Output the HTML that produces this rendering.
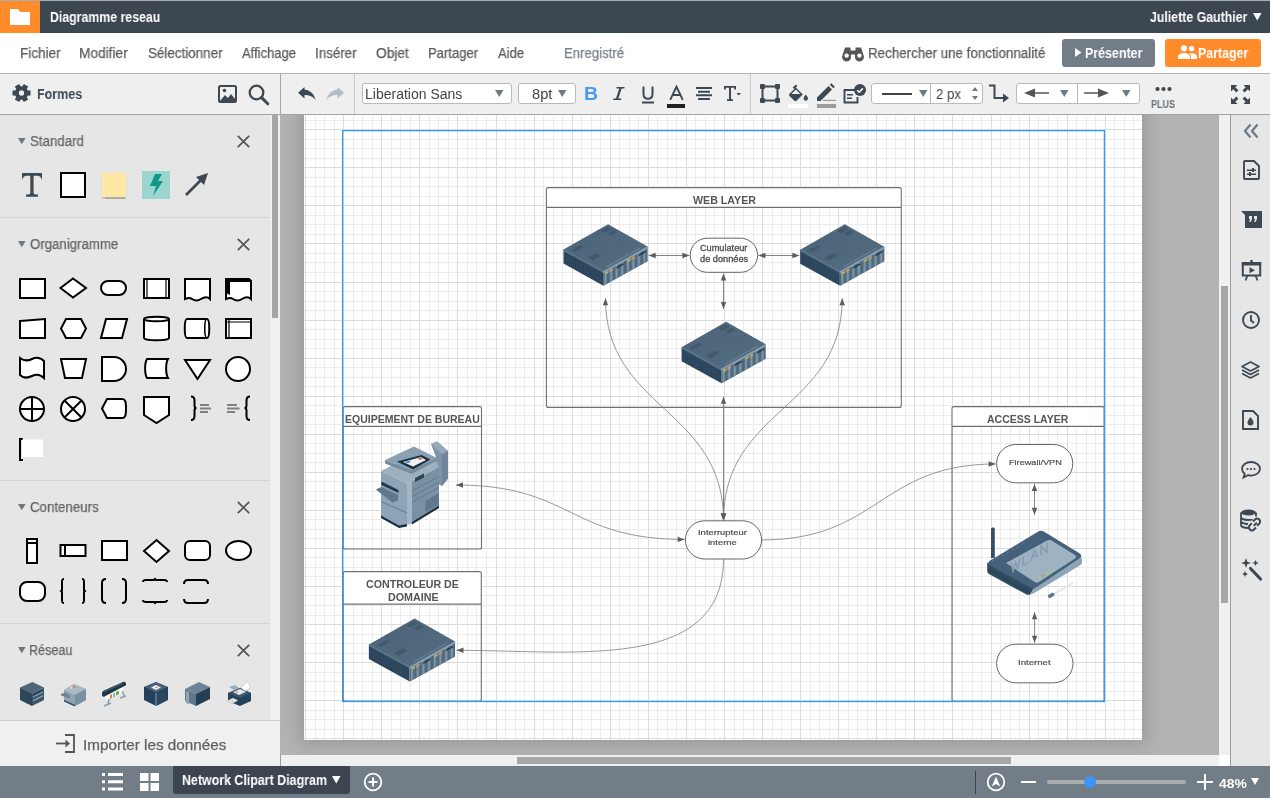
<!DOCTYPE html>
<html><head><meta charset="utf-8"><style>
html,body{margin:0;padding:0;width:1270px;height:798px;overflow:hidden;background:#fff;}
body{position:relative;font-family:"Liberation Sans",sans-serif;}
.r{position:absolute;}
.t{position:absolute;white-space:nowrap;transform-origin:0 0;will-change:transform;}
svg{position:absolute;overflow:visible;}
</style></head><body>
<div class="r" style="left:0px;top:0px;width:1270px;height:1px;background:#a9acb0"></div>
<div class="r" style="left:0px;top:1px;width:1270px;height:32px;background:#3d4752"></div>
<div class="r" style="left:0px;top:1px;width:40px;height:32px;background:#ff8b2b"></div>
<div class="r" style="left:0px;top:33px;width:1270px;height:40px;background:#fff"></div>
<div class="r" style="left:0px;top:73px;width:1270px;height:1px;background:#b4b4b4"></div>
<div class="r" style="left:0px;top:74px;width:1270px;height:40px;background:#efefef"></div>
<div class="r" style="left:0px;top:114px;width:1270px;height:1px;background:#a3a3a3"></div>
<div class="r" style="left:280px;top:74px;width:1px;height:41px;background:#a8a8a8"></div>
<div class="r" style="left:0px;top:115px;width:280px;height:651px;background:#e6e6e6"></div>
<div class="r" style="left:270px;top:115px;width:10px;height:605px;background:#f0f0f0"></div>
<div class="r" style="left:272px;top:115px;width:6px;height:203px;background:#a5a7a7"></div>
<div class="r" style="left:280px;top:115px;width:1px;height:640px;background:#b2b3b5"></div>
<div class="r" style="left:280px;top:755px;width:1px;height:11px;background:#9a9a9a"></div>
<div class="r" style="left:281px;top:115px;width:938px;height:640px;background:#b1b2b4"></div>
<div class="r" style="left:281px;top:115px;width:938px;height:640px;overflow:hidden"><div class="r" style="left:23px;top:-20px;width:838px;height:645px;background:#fff;box-shadow:0 0 16px 3px rgba(0,0,0,0.16)"></div></div>
<svg style="left:304px;top:115px" width="838" height="625" shape-rendering="crispEdges"><path fill="#ececec" d="M11 0h1v625h-1zM20 0h1v625h-1zM30 0h1v625h-1zM49 0h1v625h-1zM58 0h1v625h-1zM68 0h1v625h-1zM87 0h1v625h-1zM96 0h1v625h-1zM106 0h1v625h-1zM125 0h1v625h-1zM134 0h1v625h-1zM144 0h1v625h-1zM163 0h1v625h-1zM172 0h1v625h-1zM182 0h1v625h-1zM201 0h1v625h-1zM211 0h1v625h-1zM220 0h1v625h-1zM239 0h1v625h-1zM249 0h1v625h-1zM258 0h1v625h-1zM277 0h1v625h-1zM287 0h1v625h-1zM296 0h1v625h-1zM315 0h1v625h-1zM325 0h1v625h-1zM334 0h1v625h-1zM353 0h1v625h-1zM363 0h1v625h-1zM372 0h1v625h-1zM391 0h1v625h-1zM401 0h1v625h-1zM410 0h1v625h-1zM430 0h1v625h-1zM439 0h1v625h-1zM449 0h1v625h-1zM468 0h1v625h-1zM477 0h1v625h-1zM487 0h1v625h-1zM506 0h1v625h-1zM515 0h1v625h-1zM525 0h1v625h-1zM544 0h1v625h-1zM553 0h1v625h-1zM563 0h1v625h-1zM582 0h1v625h-1zM591 0h1v625h-1zM601 0h1v625h-1zM620 0h1v625h-1zM629 0h1v625h-1zM639 0h1v625h-1zM658 0h1v625h-1zM668 0h1v625h-1zM677 0h1v625h-1zM696 0h1v625h-1zM706 0h1v625h-1zM715 0h1v625h-1zM734 0h1v625h-1zM744 0h1v625h-1zM753 0h1v625h-1zM772 0h1v625h-1zM782 0h1v625h-1zM791 0h1v625h-1zM810 0h1v625h-1zM820 0h1v625h-1zM829 0h1v625h-1zM0 5h838v1h-838zM0 24h838v1h-838zM0 33h838v1h-838zM0 43h838v1h-838zM0 62h838v1h-838zM0 71h838v1h-838zM0 81h838v1h-838zM0 100h838v1h-838zM0 109h838v1h-838zM0 119h838v1h-838zM0 138h838v1h-838zM0 147h838v1h-838zM0 157h838v1h-838zM0 176h838v1h-838zM0 186h838v1h-838zM0 195h838v1h-838zM0 214h838v1h-838zM0 224h838v1h-838zM0 233h838v1h-838zM0 252h838v1h-838zM0 262h838v1h-838zM0 271h838v1h-838zM0 290h838v1h-838zM0 300h838v1h-838zM0 309h838v1h-838zM0 328h838v1h-838zM0 338h838v1h-838zM0 347h838v1h-838zM0 366h838v1h-838zM0 376h838v1h-838zM0 385h838v1h-838zM0 404h838v1h-838zM0 414h838v1h-838zM0 423h838v1h-838zM0 442h838v1h-838zM0 452h838v1h-838zM0 461h838v1h-838zM0 480h838v1h-838zM0 490h838v1h-838zM0 500h838v1h-838zM0 519h838v1h-838zM0 528h838v1h-838zM0 538h838v1h-838zM0 557h838v1h-838zM0 566h838v1h-838zM0 576h838v1h-838zM0 595h838v1h-838zM0 604h838v1h-838zM0 614h838v1h-838z"/><path fill="#dcdcdc" d="M1 0h1v625h-1zM39 0h1v625h-1zM77 0h1v625h-1zM115 0h1v625h-1zM153 0h1v625h-1zM192 0h1v625h-1zM230 0h1v625h-1zM268 0h1v625h-1zM306 0h1v625h-1zM344 0h1v625h-1zM382 0h1v625h-1zM420 0h1v625h-1zM458 0h1v625h-1zM496 0h1v625h-1zM534 0h1v625h-1zM572 0h1v625h-1zM610 0h1v625h-1zM648 0h1v625h-1zM687 0h1v625h-1zM725 0h1v625h-1zM763 0h1v625h-1zM801 0h1v625h-1zM0 14h838v1h-838zM0 52h838v1h-838zM0 90h838v1h-838zM0 128h838v1h-838zM0 167h838v1h-838zM0 205h838v1h-838zM0 243h838v1h-838zM0 281h838v1h-838zM0 319h838v1h-838zM0 357h838v1h-838zM0 395h838v1h-838zM0 433h838v1h-838zM0 471h838v1h-838zM0 509h838v1h-838zM0 547h838v1h-838zM0 585h838v1h-838zM0 623h838v1h-838z"/></svg>
<svg style="left:0;top:0" width="1270" height="798" viewBox="0 0 1270 798">
<defs>
<linearGradient id="stop" x1="0" y1="0" x2="1" y2="1"><stop offset="0" stop-color="#4a6378"/><stop offset="1" stop-color="#546d81"/></linearGradient>
<linearGradient id="sbay" x1="0" y1="0" x2="1" y2="0" spreadMethod="repeat"><stop offset="0" stop-color="#4a6275"/><stop offset="0.5" stop-color="#7f96a8"/><stop offset="1" stop-color="#4a6275"/></linearGradient>
<pattern id="grille" width="2" height="2" patternUnits="userSpaceOnUse"><rect width="2" height="2" fill="#27425a"/><rect width="1" height="1" fill="#3a566b"/></pattern>
<pattern id="stripes" width="0.125" height="1" patternUnits="userSpaceOnUse"><rect width="0.125" height="1" fill="#506a7e"/><rect x="0.03" width="0.05" height="1" fill="#7d95a7"/></pattern>
<g id="server">
  <path fill="url(#stop)" d="M0 0L39.5 22.4L-5 47.2L-44.6 25.4z"/>
  <g transform="matrix(44.6,-25.4,39.6,21.8,-44.6,25.4)">
    <path fill="#30495c" d="M0.78 0.05h0.16v0.1h-0.16zM0.80 0.2h0.14v0.1h-0.14zM0.08 0.12h0.2v0.08h-0.2zM0.1 0.5h0.2v0.12h-0.2z" opacity="0.45"/>
    <path fill="#6d869a" d="M0.12 0.93h0.75v0.03h-0.75z" opacity="0.8"/>
  </g>
  <path fill="none" stroke="#6e879a" stroke-width="0.9" d="M-44.2 25.6L-5 47.2L39.2 22.6"/>
  <g transform="matrix(39.6,21.8,0,14,-44.6,25.4)">
    <rect x="0" y="0" width="1" height="1" fill="#2b4457"/>
    <rect x="0.04" y="0.12" width="0.93" height="0.82" fill="url(#grille)" transform="scale(0.025,0.07)" style="display:none"/>
  </g>
  <path fill="url(#grille)" d="M-43.4 27.5L-6 48.2L-6 60.4L-43.4 39.4z"/>
  <path fill="#5e778a" d="M-44.6 25.4L-5 47.2V48.6L-44.6 26.8z"/>
  <g transform="matrix(44.5,-24.8,0,14.6,-5,47.2)">
    <rect x="0" y="0" width="1" height="1" fill="#4c6478"/>
    <rect x="0.02" y="0.12" width="0.46" height="0.86" fill="url(#stripes)"/>
    <rect x="0.52" y="0.12" width="0.46" height="0.86" fill="url(#stripes)"/>
    <rect x="0" y="0" width="1" height="0.12" fill="#8fa5b5"/>
    <rect x="0.3" y="0.2" width="0.16" height="0.12" fill="#25394a"/>
    <rect x="0.8" y="0.2" width="0.16" height="0.12" fill="#25394a"/>
    <rect x="0.04" y="0.16" width="0.08" height="0.14" fill="#b9b45e"/>
    <rect x="0.14" y="0.16" width="0.08" height="0.14" fill="#c99a5c"/>
    <rect x="0.54" y="0.16" width="0.08" height="0.14" fill="#b9b45e"/>
    <rect x="0.64" y="0.16" width="0.08" height="0.14" fill="#c99a5c"/>
  </g>
</g>
<clipPath id="cv"><rect x="281" y="115" width="938" height="640"/></clipPath></defs>
<g clip-path="url(#cv)">
<path fill="#fff" d="M546.4 207.4V189.6a2 2 0 0 1 2-2H899.3a2 2 0 0 1 2 2V207.4z"/><path fill="none" stroke="#707070" stroke-width="1.1" d="M546.4 405.4V189.6a2 2 0 0 1 2-2H899.3a2 2 0 0 1 2 2V405.4a2 2 0 0 1-2 2H548.4a2 2 0 0 1-2-2zM546.4 207.4H901.3"/>
<path fill="#fff" d="M952.0 426.4V408.6a2 2 0 0 1 2-2H1102.2a2 2 0 0 1 2 2V426.4z"/><path fill="none" stroke="#707070" stroke-width="1.1" d="M952.0 699.4V408.6a2 2 0 0 1 2-2H1102.2a2 2 0 0 1 2 2V699.4a2 2 0 0 1-2 2H954.0a2 2 0 0 1-2-2zM952.0 426.4H1104.2"/>
<path fill="#fff" d="M343.2 426.4V408.6a2 2 0 0 1 2-2H479.5a2 2 0 0 1 2 2V426.4z"/><path fill="none" stroke="#707070" stroke-width="1.1" d="M343.2 547.0V408.6a2 2 0 0 1 2-2H479.5a2 2 0 0 1 2 2V547.0a2 2 0 0 1-2 2H345.2a2 2 0 0 1-2-2zM343.2 426.4H481.5"/>
<path fill="#fff" d="M343.2 604.1V573.6a2 2 0 0 1 2-2H479.3a2 2 0 0 1 2 2V604.1z"/><path fill="none" stroke="#707070" stroke-width="1.1" d="M343.2 699.3V573.6a2 2 0 0 1 2-2H479.3a2 2 0 0 1 2 2V699.3a2 2 0 0 1-2 2H345.2a2 2 0 0 1-2-2zM343.2 604.1H481.3"/>
<path stroke="#858585" stroke-width="1" fill="none" d="M648.7 255.5L689.4 255.5"/><path fill="#5c5c5c" d="M689.40 255.50L682.40 258.20L682.40 252.80z"/><path fill="#5c5c5c" d="M648.70 255.50L655.70 252.80L655.70 258.20z"/>
<path stroke="#858585" stroke-width="1" fill="none" d="M758.4 255.5L799.3 255.5"/><path fill="#5c5c5c" d="M799.30 255.50L792.30 258.20L792.30 252.80z"/><path fill="#5c5c5c" d="M758.40 255.50L765.40 252.80L765.40 258.20z"/>
<path stroke="#858585" stroke-width="1" fill="none" d="M723.5 273.5L723.5 309.0"/><path fill="#5c5c5c" d="M723.50 309.00L720.80 302.00L726.20 302.00z"/><path fill="#5c5c5c" d="M723.50 273.50L726.20 280.50L720.80 280.50z"/>
<path stroke="#858585" stroke-width="1" fill="none" d="M723.5 396.7L723.5 520.5"/><path fill="#5c5c5c" d="M723.50 520.50L720.80 513.50L726.20 513.50z"/><path fill="#5c5c5c" d="M723.50 396.70L726.20 403.70L720.80 403.70z"/>
<path stroke="#858585" stroke-width="1" fill="none" d="M1034.5 483.9L1034.5 514.8"/><path fill="#5c5c5c" d="M1034.50 514.80L1031.80 507.80L1037.20 507.80z"/><path fill="#5c5c5c" d="M1034.50 483.90L1037.20 490.90L1031.80 490.90z"/>
<path stroke="#858585" stroke-width="1" fill="none" d="M1034.6 612.3L1034.6 642.8"/><path fill="#5c5c5c" d="M1034.60 642.80L1031.90 635.80L1037.30 635.80z"/><path fill="#5c5c5c" d="M1034.60 612.30L1037.30 619.30L1031.90 619.30z"/>
<path stroke="#7e7e7e" stroke-width="0.8" fill="none" d="M605.5 298.3C605.5 409.9 723.5 407.7 723.5 520.5"/><path fill="#5c5c5c" d="M605.50 298.30L608.20 305.30L602.80 305.30z"/><path fill="#5c5c5c" d="M723.50 520.50L720.80 513.50L726.20 513.50z"/>
<path stroke="#7e7e7e" stroke-width="0.8" fill="none" d="M842.2 298.3C842.2 409.9 723.5 407.7 723.5 520.5"/><path fill="#5c5c5c" d="M842.20 298.30L844.90 305.30L839.50 305.30z"/><path fill="#5c5c5c" d="M723.50 520.50L720.80 513.50L726.20 513.50z"/>
<path stroke="#7e7e7e" stroke-width="0.8" fill="none" d="M456.0 485.0C572.3 485.0 568.6 539.4 684.6 539.4"/><path fill="#5c5c5c" d="M456.00 485.00L463.00 482.30L463.00 487.70z"/><path fill="#5c5c5c" d="M684.60 539.40L677.60 542.10L677.60 536.70z"/>
<path stroke="#7e7e7e" stroke-width="0.8" fill="none" d="M762.0 539.9C878.8 539.9 879.7 464.0 995.6 464.0"/><path fill="#5c5c5c" d="M995.60 464.00L988.60 466.70L988.60 461.30z"/>
<path stroke="#7e7e7e" stroke-width="0.8" fill="none" d="M723.5 559.2C723.5 672.7 572.8 650.3 456.5 650.3"/><path fill="#5c5c5c" d="M456.50 650.30L463.50 647.60L463.50 653.00z"/>
<rect x="690.2" y="238.2" width="67.4" height="34.1" rx="17.1" fill="#fff" stroke="#666" stroke-width="1"/>
<rect x="685.4" y="520.8" width="76.2" height="38.2" rx="19.1" fill="#fff" stroke="#666" stroke-width="1"/>
<rect x="996.6" y="444.5" width="76.2" height="38.3" rx="19.2" fill="#fff" stroke="#666" stroke-width="1"/>
<rect x="996.6" y="644.2" width="76.4" height="38.6" rx="19.3" fill="#fff" stroke="#666" stroke-width="1"/>
<use href="#server" transform="translate(608.10 224.20) scale(1.000)"/>
<use href="#server" transform="translate(844.80 224.30) scale(1.000)"/>
<use href="#server" transform="translate(726.20 321.80) scale(1.000)"/>
<use href="#server" transform="translate(414.60 618.50) scale(1.025)"/>

<g>
 <path fill="#34516a" d="M991 529c0-1 1-1.5 2-1.5s1.8.5 1.8 1.5v29h-3.8z"/>
 <path fill="#2f4b60" d="M987.2 562.6L1034 588L1030 594.5C1029 595 1027 595 1026 594.3L989 574c-1.3-.7-1.8-2-1.8-3.5z"/>
 <path fill="#8ea5b6" d="M1034 588L1082 557.3V562c0 1.5-.6 2.5-1.8 3.2L1033 593.8c-1 .6-2 .8-3 .7z"/>
 <path fill="#44607a" d="M1037 532.2c3-1.8 5-1.8 8 0L1079 553c3 2 3 4 0 6l-42 27.8c-3 2-5 2-8 .2L991 566c-3.5-2-3.5-4 0-6z"/>
 <path fill="#9db2c2" d="M1006 563L1047 540.5c1.5-.8 3-.8 4.5 0L1075 555c1.5 1 1.5 2.5 0 3.5L1039 582c-1.5 1-3 1-4.5 0z"/>
 <g transform="matrix(1,-0.56,0,1,1011,572)" fill="none" stroke="#879db0" stroke-width="1.6"><path d="M0 -9l2.2 9 2.3-6.5 2.3 6.5 2.2-9M12 -9v9h6M20 0l3.3-9 3.3 9M21.2 -3h4.3M30 0v-9l6 9v-9"/></g>
 <g transform="matrix(1,-0.56,0,1,992,563)" fill="#5a778e"><path d="M0 -3h1.5v2H0zM5 -3h1.5v2H5zM10 -3h1.5v2H10zM15 -3h1.5v2H15zM20 -3h1.5v2H20zM25 -3h1.5v2H25zM30 -3h1.5v2H30z"/></g>
 <path fill="#c9c84a" d="M1039 577l1.3-.8v2.2l-1.3.8zM1042.5 575l1.3-.8v2.2l-1.3.8zM1046 573l1.3-.8v2.2l-1.3.8zM1049.5 571l1.3-.8v2.2l-1.3.8zM1053 569l1.3-.8v2.2l-1.3.8z"/>
 <path fill="#d77a3a" d="M1042.5 575l1.3-.8v2.2l-1.3.8z"/>
 <path fill="#2a4457" d="M989 570.5L1030 594.5v-2.5L989 568z" opacity="0.8"/>
 <path stroke="#dfe6ea" stroke-width="1.6" d="M1053 594.5L1073 583"/>
 <path fill="#5c7a92" d="M1048 595l4.5-2.4 1.8 1v2.2l-4.5 2.4-1.8-1z"/>
</g>


<g>
 <path fill="#7d93a6" d="M431 444l6-2.5 11 9.5v27.5l-6 7.5-6-3V457z"/>
 <path fill="#93a8b9" d="M431 444l6-2.5 11 9.5-6 3.5z"/>
 <path fill="#6f869a" d="M442 454.5l6-3.5v27.5l-6 7.5z"/>
 <path fill="#8da3b6" d="M381 471L407 483.5V524L399 527.5L381 517.5z"/>
 <path fill="#a3b6c5" d="M407 483.5l5 -2.5V524l-5 .5z"/>
 <path fill="#7a91a4" d="M412 481L439 467V507L412 523.5z"/>
 <path fill="#1a3040" d="M381 515.5L399 525.5v2.5L381 518zM399 525.5l8-1.5v2.5l-8 1.5zM412 522l27-16.5v2.5L412 524.5z"/>
 <path fill="#9db0c0" d="M381 471L397 463L436 461L439 467L412 481L407 483.5z"/>
 <path fill="#8aa1b4" d="M385 460L414 446.5L436 457.5L412 470.5z"/>
 <path fill="#748c9f" d="M385 460L412 470.5V474L385 463.5zM412 470.5L436 457.5V461L412 474z"/>
 <path fill="#1b3142" d="M397 461.5L421.5 455L430.5 459.5L413 469.5z"/>
 <path fill="#eef1f3" d="M403 462L421 457L426 460L413 466.5z"/>
 <path fill="#3d86d6" d="M405 462l4-1.2 2 1.2-4 1.2z"/>
 <path fill="#d9703a" d="M417.5 458.5l3-.9 2.5 1.5-3 .9z"/>
 <path fill="#6aae4c" d="M418 457.3l2-.6 1.3.8-2 .6z"/>
 <path fill="#2b4558" d="M415 478l9-4.5v4l-9 4.5z"/>
 <path fill="#233a4c" d="M381.4 481.5L398.5 490v3L381.4 485z"/>
 <path fill="#5f778b" d="M375.8 489.5L381.4 487L398 495v5.5l-5.5 2z"/>
 <path fill="none" stroke="#5a7286" stroke-width="0.8" d="M412 491L439 476.5M412 496.5L439 482M412 502L439 487.5M381 501.5L407 513"/>
 <path fill="#60788c" d="M425.5 501l13.5-8v11l-13.5 8z"/>
</g>

<rect x="342.6" y="130.6" width="761.8" height="570.9" fill="none" stroke="#2a9dfc" stroke-width="1.3"/>
</g></svg>
<span class="t" style="left:693.00px;top:195.11px;font-size:10.5px;line-height:10.5px;font-weight:bold;color:#555;transform:scaleX(1.0144);">WEB LAYER</span>
<span class="t" style="left:987.25px;top:413.61px;font-size:10.5px;line-height:10.5px;font-weight:bold;color:#555;">ACCESS LAYER</span>
<span class="t" style="left:345.01px;top:413.81px;font-size:10.5px;line-height:10.5px;font-weight:bold;color:#555;">EQUIPEMENT DE BUREAU</span>
<span class="t" style="left:365.92px;top:578.71px;font-size:10.5px;line-height:10.5px;font-weight:bold;color:#555;transform:scaleX(1.0142);">CONTROLEUR DE</span>
<span class="t" style="left:387.50px;top:591.71px;font-size:10.5px;line-height:10.5px;font-weight:bold;color:#555;transform:scaleX(1.0206);">DOMAINE</span>
<span class="t" style="left:699.80px;top:243.60px;font-size:8.5px;line-height:8.5px;font-weight:normal;color:#4e4e4e;transform:scaleX(1.0782);-webkit-text-stroke:0.3px #4e4e4e;">Cumulateur</span>
<span class="t" style="left:699.86px;top:254.60px;font-size:8.5px;line-height:8.5px;font-weight:normal;color:#4e4e4e;transform:scaleX(1.0849);-webkit-text-stroke:0.3px #4e4e4e;">de données</span>
<span class="t" style="left:698.09px;top:528.93px;font-size:8px;line-height:8px;font-weight:normal;color:#4e4e4e;transform:scaleX(1.1809);-webkit-text-stroke:0.2px #4e4e4e;">Interrupteur</span>
<span class="t" style="left:708.41px;top:538.83px;font-size:8px;line-height:8px;font-weight:normal;color:#4e4e4e;transform:scaleX(1.1767);-webkit-text-stroke:0.2px #4e4e4e;">interne</span>
<span class="t" style="left:1008.69px;top:459.23px;font-size:8px;line-height:8px;font-weight:normal;color:#4e4e4e;transform:scaleX(1.1416);-webkit-text-stroke:0.2px #4e4e4e;">Firewall/VPN</span>
<span class="t" style="left:1018.07px;top:659.23px;font-size:8px;line-height:8px;font-weight:normal;color:#4e4e4e;transform:scaleX(1.2028);-webkit-text-stroke:0.2px #4e4e4e;">Internet</span>
<div class="r" style="left:1219px;top:115px;width:11px;height:640px;background:#f0f0f0"></div>
<div class="r" style="left:1221px;top:286px;width:7px;height:317px;background:#a5a7a7"></div>
<div class="r" style="left:1230px;top:115px;width:1px;height:651px;background:#9c9c9c"></div>
<div class="r" style="left:1231px;top:115px;width:39px;height:651px;background:#e6e6e6"></div>
<div class="r" style="left:281px;top:755px;width:938px;height:11px;background:#f0f0f0"></div>
<div class="r" style="left:517px;top:757px;width:494px;height:7px;background:#a5a7a7"></div>
<div class="r" style="left:1219px;top:755px;width:11px;height:11px;background:#fff"></div>
<div class="r" style="left:0px;top:766px;width:1270px;height:32px;background:#737d88"></div>
<svg style="left:10px;top:9px" width="20" height="16"><path fill="#fff" d="M0 0h8l2 3h10v13H0z"/></svg>
<span class="t" style="left:49.93px;top:10.15px;font-size:14px;line-height:14px;font-weight:bold;color:#fff;transform:scaleX(0.8797);">Diagramme reseau</span>
<span class="t" style="left:1150.23px;top:10.15px;font-size:14px;line-height:14px;font-weight:bold;color:#fff;transform:scaleX(0.8813);">Juliette Gauthier</span>
<svg style="left:1253px;top:13px" width="9" height="8"><path fill="#fff" d="M0 0h8.5L4.25 7.5z"/></svg>
<span class="t" style="left:19.61px;top:46.15px;font-size:14px;line-height:14px;font-weight:normal;color:#5b5b5b;transform:scaleX(0.9659);-webkit-text-stroke:0.25px #5b5b5b;">Fichier</span>
<span class="t" style="left:79.30px;top:46.15px;font-size:14px;line-height:14px;font-weight:normal;color:#5b5b5b;transform:scaleX(0.9765);-webkit-text-stroke:0.25px #5b5b5b;">Modifier</span>
<span class="t" style="left:147.60px;top:46.15px;font-size:14px;line-height:14px;font-weight:normal;color:#5b5b5b;transform:scaleX(0.9571);-webkit-text-stroke:0.25px #5b5b5b;">Sélectionner</span>
<span class="t" style="left:242.40px;top:46.15px;font-size:14px;line-height:14px;font-weight:normal;color:#5b5b5b;transform:scaleX(0.9287);-webkit-text-stroke:0.25px #5b5b5b;">Affichage</span>
<span class="t" style="left:315.41px;top:46.15px;font-size:14px;line-height:14px;font-weight:normal;color:#5b5b5b;transform:scaleX(0.9543);-webkit-text-stroke:0.25px #5b5b5b;">Insérer</span>
<span class="t" style="left:376.19px;top:46.15px;font-size:14px;line-height:14px;font-weight:normal;color:#5b5b5b;transform:scaleX(0.9802);-webkit-text-stroke:0.25px #5b5b5b;">Objet</span>
<span class="t" style="left:428.05px;top:46.15px;font-size:14px;line-height:14px;font-weight:normal;color:#5b5b5b;transform:scaleX(0.9317);-webkit-text-stroke:0.25px #5b5b5b;">Partager</span>
<span class="t" style="left:498.10px;top:46.15px;font-size:14px;line-height:14px;font-weight:normal;color:#5b5b5b;transform:scaleX(0.9294);-webkit-text-stroke:0.25px #5b5b5b;">Aide</span>
<span class="t" style="left:563.64px;top:46.15px;font-size:14px;line-height:14px;font-weight:normal;color:#77818c;transform:scaleX(0.9426);-webkit-text-stroke:0.25px #77818c;">Enregistré</span>
<svg style="left:842px;top:46px" width="22" height="14" viewBox="0 0 22 14">
      <path fill="#555" d="M3 1.5h5.5v3h5v-3H19l2.5 7.5A4.5 4.5 0 1 1 13 10.5v-2H9v2A4.5 4.5 0 1 1 0.5 9z"/>
      <circle cx="4.6" cy="9.6" r="2.2" fill="#fff"/><circle cx="17.4" cy="9.6" r="2.2" fill="#fff"/></svg>
<span class="t" style="left:868.43px;top:46.15px;font-size:14px;line-height:14px;font-weight:normal;color:#5b5b5b;transform:scaleX(0.9533);-webkit-text-stroke:0.25px #5b5b5b;">Rechercher une fonctionnalité</span>
<div class="r" style="left:1062px;top:39px;width:93px;height:28px;background:#737d88;border-radius:3px"></div>
<svg style="left:1075px;top:48px" width="7" height="9"><path fill="#fff" d="M0 0l6.5 4.5L0 9z"/></svg>
<span class="t" style="left:1084.72px;top:46.15px;font-size:14px;line-height:14px;font-weight:bold;color:#fff;transform:scaleX(0.8882);">Présenter</span>
<div class="r" style="left:1165px;top:39px;width:96px;height:28px;background:#ff8b2b;border-radius:3px"></div>
<svg style="left:1178px;top:45px" width="19" height="14" viewBox="0 0 19 14">
      <circle cx="6" cy="3.3" r="3.1" fill="#fff"/><circle cx="13.6" cy="3.6" r="2.7" fill="#fff"/>
      <path fill="#fff" d="M0 14v-2.2C0 9.2 3.5 8 6 8s6 1.2 6 3.8V14z"/><path fill="#fff" d="M12.8 14v-2.4c0-1.2-.5-2.2-1.4-3 .7-.2 1.5-.3 2.2-.3 2.4 0 5.4 1.1 5.4 3.4V14z"/></svg>
<span class="t" style="left:1198.22px;top:46.15px;font-size:14px;line-height:14px;font-weight:bold;color:#fff;transform:scaleX(0.8861);">Partager</span>
<svg style="left:12px;top:84px" width="19" height="18" viewBox="-9.5 -9.2 19 18.4"><g fill="#3e4853"><circle r="6.8"/><rect x="-2.6" y="-9.2" width="5.2" height="5" transform="rotate(30)"/><rect x="-2.6" y="-9.2" width="5.2" height="5" transform="rotate(90)"/><rect x="-2.6" y="-9.2" width="5.2" height="5" transform="rotate(150)"/><rect x="-2.6" y="-9.2" width="5.2" height="5" transform="rotate(210)"/><rect x="-2.6" y="-9.2" width="5.2" height="5" transform="rotate(270)"/><rect x="-2.6" y="-9.2" width="5.2" height="5" transform="rotate(330)"/></g><circle r="2.7" fill="#efefef"/></svg>
<span class="t" style="left:36.92px;top:87.15px;font-size:14px;line-height:14px;font-weight:bold;color:#3e4853;transform:scaleX(0.8945);">Formes</span>
<svg style="left:218px;top:85px" width="19" height="18" viewBox="0 0 19 18"><rect x="1" y="1" width="17" height="16" rx="1.5" fill="none" stroke="#3e4853" stroke-width="2"/>
      <path fill="#3e4853" d="M2 16l5-6 3 3 3-4 4 5v2H2z"/><circle cx="6.5" cy="5.5" r="1.8" fill="#3e4853"/></svg>
<svg style="left:248px;top:84px" width="22" height="21" viewBox="0 0 22 21"><circle cx="8.5" cy="8.5" r="6.8" fill="none" stroke="#3e4853" stroke-width="2.3"/>
      <path d="M13.6 13.6l6.2 6.2" stroke="#3e4853" stroke-width="3" stroke-linecap="round"/></svg>
<svg style="left:297px;top:85px" width="20" height="16" viewBox="0 0 20 16"><path fill="#3e4853" d="M7.5 2L1 7.8l6.5 5.8V10c5 0 8.5 1.4 11 5-1-5-4-9.6-11-10.6z"/></svg>
<svg style="left:325px;top:85px" width="20" height="16" viewBox="0 0 20 16"><path fill="#b7bcc2" d="M12.5 2L19 7.8l-6.5 5.8V10c-5 0-8.5 1.4-11 5 1-5 4-9.6 11-10.6z"/></svg>
<div class="r" style="left:354px;top:74px;width:1px;height:40px;background:#c8c8c8"></div>
<div class="r" style="left:362px;top:83px;width:150px;height:21px;background:#fff;border:1px solid #b9b9b9;border-radius:3px;box-sizing:border-box"></div>
<span class="t" style="left:364.86px;top:87.15px;font-size:14px;line-height:14px;font-weight:normal;color:#444;">Liberation Sans</span>
<svg style="left:495px;top:90px" width="9" height="8"><path fill="#707a85" d="M0 0h8.5L4.25 7z"/></svg>
<div class="r" style="left:518px;top:83px;width:58px;height:21px;background:#fff;border:1px solid #b9b9b9;border-radius:3px;box-sizing:border-box"></div>
<span class="t" style="left:531.71px;top:87.15px;font-size:14px;line-height:14px;font-weight:normal;color:#444;transform:scaleX(1.0472);">8pt</span>
<svg style="left:558px;top:90px" width="9" height="8"><path fill="#707a85" d="M0 0h8.5L4.25 7z"/></svg>
<span class="t" style="left:584.32px;top:84.76px;font-size:18px;line-height:18px;font-weight:bold;color:#4a9af0;transform:scaleX(1.0818);">B</span>
<svg style="left:612px;top:86px" width="14" height="15" viewBox="0 0 14 15"><path fill="#3e4853" d="M4.5 1h8v1.6H9.6L6.4 12.4h2.8V14h-8v-1.6h2.8L7.2 2.6H4.5z"/></svg>
<svg style="left:641px;top:86px" width="14" height="18" viewBox="0 0 14 18"><path fill="none" stroke="#3e4853" stroke-width="2" d="M2.5 0.5v7.5c0 3 1.8 4.8 4.5 4.8s4.5-1.8 4.5-4.8V0.5"/><rect x="1" y="15.5" width="12" height="2" fill="#3e4853"/></svg>
<svg style="left:669px;top:86px" width="15" height="14" viewBox="0 0 15 14"><path fill="none" stroke="#3e4853" stroke-width="1.9" d="M1.2 13.8L7.5 0.8l6.3 13M3.6 9h7.8"/></svg>
<div class="r" style="left:667px;top:104px;width:18px;height:4px;background:#222"></div>
<svg style="left:696px;top:87px" width="16" height="13" viewBox="0 0 16 13"><path fill="#3e4853" d="M0 0h16v2H0zM2 3.7h12v2H2zM0 7.3h16v2H0zM2 11h12v2H2z"/></svg>
<svg style="left:724px;top:86px" width="17" height="15" viewBox="0 0 17 15"><path fill="#3e4853" d="M0 0h12v3.5h-1.8V1.8H7v11.4h2V15H3v-1.8h2V1.8H1.8v1.7H0z"/><path fill="#3e4853" d="M12.5 7h4.5l-2.25 2.5z"/></svg>
<div class="r" style="left:750px;top:74px;width:1px;height:40px;background:#c8c8c8"></div>
<svg style="left:760px;top:84px" width="20" height="19" viewBox="0 0 20 19"><rect x="2.5" y="2.5" width="15" height="14" fill="none" stroke="#3e4853" stroke-width="2"/>
      <rect x="0" y="0" width="5" height="5" rx="1" fill="#3e4853"/><rect x="15" y="0" width="5" height="5" rx="1" fill="#3e4853"/><rect x="0" y="14" width="5" height="5" rx="1" fill="#3e4853"/><rect x="15" y="14" width="5" height="5" rx="1" fill="#3e4853"/></svg>
<svg style="left:789px;top:84px" width="20" height="18" viewBox="0 0 20 18"><path fill="#3e4853" d="M7 0.5l1.4 1.4L6.8 3.5l7 7-6.3 6.3c-.6.6-1.5.6-2.1 0L0.5 11.9c-.6-.6-.6-1.5 0-2.1L5.3 5 3.7 3.4z"/><path fill="#efefef" d="M6.8 5.6L2.3 10.1h9z"/><path fill="#3e4853" d="M16.8 10.5s2.2 2.6 2.2 4c0 1.2-1 2.2-2.2 2.2s-2.2-1-2.2-2.2c0-1.4 2.2-4 2.2-4z"/></svg>
<div class="r" style="left:788px;top:104px;width:20px;height:4px;background:#ffffff"></div>
<svg style="left:817px;top:84px" width="19" height="18" viewBox="0 0 19 18"><path fill="#3e4853" d="M0 17v-3.5L11.5 2 15 5.5 3.5 17zM12.8 0.7l1.5-1.5 3.5 3.5-1.5 1.5z"/><rect x="6" y="15.8" width="13" height="1.2" fill="#9a9a9a"/></svg>
<div class="r" style="left:817px;top:104px;width:19px;height:4px;background:#9c9c9c"></div>
<svg style="left:843px;top:84px" width="23" height="20" viewBox="0 0 23 20"><path fill="none" stroke="#3e4853" stroke-width="1.9" d="M12 6H1.5v12.5h13V13"/><path fill="#3e4853" d="M4 10h6v1.6H4zM4 13.4h5v1.6H4z"/>
      <circle cx="17" cy="6" r="6" fill="#3e4853"/><path fill="none" stroke="#fff" stroke-width="1.6" d="M14.2 6.2l2 2 3.6-3.8"/></svg>
<div class="r" style="left:871px;top:83px;width:112px;height:21px;background:#fff;border:1px solid #b9b9b9;border-radius:3px;box-sizing:border-box"></div>
<div class="r" style="left:930px;top:83px;width:1px;height:21px;background:#b9b9b9"></div>
<div class="r" style="left:882px;top:93px;width:30px;height:2px;background:#444"></div>
<svg style="left:919px;top:90px" width="9" height="8"><path fill="#707a85" d="M0 0h8.5L4.25 7z"/></svg>
<span class="t" style="left:935.75px;top:87.15px;font-size:14px;line-height:14px;font-weight:normal;color:#444;transform:scaleX(0.9405);">2 px</span>
<svg style="left:972px;top:86px" width="7" height="15"><path fill="#707a85" d="M0 5L3 1 6 5zM0 10l3 4 3-4z"/></svg>
<svg style="left:989px;top:84px" width="21" height="18" viewBox="0 0 21 18"><path fill="none" stroke="#3e4853" stroke-width="2" d="M0 1.5h5.5v12.5h9"/><path fill="#3e4853" d="M14 9.5l6 4.5-6 4.5z"/></svg>
<div class="r" style="left:1016px;top:83px;width:124px;height:21px;background:#fff;border:1px solid #b9b9b9;border-radius:3px;box-sizing:border-box"></div>
<div class="r" style="left:1077px;top:83px;width:1px;height:21px;background:#b9b9b9"></div>
<svg style="left:1024px;top:88px" width="26" height="10"><path fill="#555" d="M0 5L11 0.5v3.7h14v1.6H11v3.7z"/></svg>
<svg style="left:1060px;top:90px" width="9" height="8"><path fill="#707a85" d="M0 0h8.5L4.25 7z"/></svg>
<svg style="left:1084px;top:88px" width="26" height="10"><path fill="#555" d="M25 5L14 0.5v3.7H0v1.6h14v3.7z"/></svg>
<svg style="left:1122px;top:90px" width="9" height="8"><path fill="#707a85" d="M0 0h8.5L4.25 7z"/></svg>
<svg style="left:1155px;top:86px" width="18" height="6"><circle cx="2.5" cy="3" r="2.1" fill="#3e4853"/><circle cx="8.5" cy="3" r="2.1" fill="#3e4853"/><circle cx="14.5" cy="3" r="2.1" fill="#3e4853"/></svg>
<span class="t" style="left:1151.44px;top:99.83px;font-size:10px;line-height:10px;font-weight:bold;color:#66707a;transform:scaleX(0.9032);">PLUS</span>
<svg style="left:1231px;top:85px" width="19" height="19" viewBox="0 0 19 19"><g fill="#3e4853">
      <path d="M0 0h6.5L4.3 2.2 7.4 5.3 5.3 7.4 2.2 4.3 0 6.5z"/><path d="M19 0h-6.5l2.2 2.2-3.1 3.1 2.1 2.1 3.1-3.1L19 6.5z"/>
      <path d="M0 19h6.5l-2.2-2.2 3.1-3.1-2.1-2.1-3.1 3.1L0 12.5z"/><path d="M19 19h-6.5l2.2-2.2-3.1-3.1 2.1-2.1 3.1 3.1 2.2-2.2z"/></g></svg>
<svg style="left:18px;top:138px" width="8" height="7"><path fill="#6f7983" d="M0 0h7.6L3.8 6.2z"/></svg><span class="t" style="left:29.81px;top:134.15px;font-size:14px;line-height:14px;font-weight:normal;color:#656565;transform:scaleX(0.9499);-webkit-text-stroke:0.25px #656565;">Standard</span><svg style="left:237px;top:135px" width="13" height="13"><path stroke="#555" stroke-width="1.7" d="M0.8 0.8l11.4 11.4M12.2 0.8L0.8 12.2"/></svg>
<svg style="left:22px;top:173px" width="20" height="24" viewBox="0 0 20 24"><path fill="#3e4853" d="M0 0H20V7.5C19.5 4.5 18 2.8 15 2.8H11.6V20.2C11.6 21 13 21.4 16 21.6V23.8H4V21.6C7 21.4 8.3 21 8.3 20.2V2.8H5C2 2.8 .5 4.5 0 7.5z"/></svg>
<div class="r" style="left:60px;top:172px;width:26px;height:26px;background:#fff;border:2.5px solid #000;box-sizing:border-box"></div>
<div class="r" style="left:102px;top:173px;width:24px;height:24px;background:#fde9a5;box-shadow:0 1.5px 1px rgba(0,0,0,0.25)"></div>
<div class="r" style="left:142px;top:171px;width:28px;height:28px;background:#9cd5cf"></div>
<svg style="left:146px;top:174px" width="20" height="22" viewBox="0 0 20 22"><path fill="#0f9787" d="M9 0h7l-4 7h5L7 22l3-10H4z"/></svg>
<svg style="left:185px;top:173px" width="24" height="23" viewBox="0 0 24 23"><path stroke="#3e4853" stroke-width="2.6" d="M1 22L17 6"/><path fill="#3e4853" d="M23 0L11 4l8 8z"/></svg>
<div class="r" style="left:0px;top:217px;width:270px;height:1px;background:#d3d3d3"></div>
<svg style="left:18px;top:241px" width="8" height="7"><path fill="#6f7983" d="M0 0h7.6L3.8 6.2z"/></svg><span class="t" style="left:29.81px;top:237.15px;font-size:14px;line-height:14px;font-weight:normal;color:#656565;transform:scaleX(0.9455);-webkit-text-stroke:0.25px #656565;">Organigramme</span><svg style="left:237px;top:238px" width="13" height="13"><path stroke="#555" stroke-width="1.7" d="M0.8 0.8l11.4 11.4M12.2 0.8L0.8 12.2"/></svg>
<svg style="left:18px;top:277px" width="29" height="23" viewBox="0 0 29 23"><rect x="2" y="2" width="25" height="19" fill="#fff" stroke="#000" stroke-width="2"/></svg>
<svg style="left:59px;top:277px" width="29" height="23" viewBox="0 0 29 23"><path d="M14 1.5L27 11 14 20.5 1.5 11z" fill="#fff" stroke="#000" stroke-width="2"/></svg>
<svg style="left:100px;top:280px" width="27" height="16" viewBox="0 0 27 16"><rect x="1" y="1" width="25" height="14" rx="7" fill="#fff" stroke="#000" stroke-width="2"/></svg>
<svg style="left:142px;top:277px" width="29" height="23" viewBox="0 0 29 23"><rect x="2" y="2" width="25" height="19" fill="#fff" stroke="#000" stroke-width="2"/><path stroke="#000" stroke-width="1.2" d="M5 2v19M24 2v19"/></svg>
<svg style="left:183px;top:277px" width="29" height="25" viewBox="0 0 29 25"><path d="M2 2h25v20c-3-3-6-2-9 0s-6 2-9 0-4-1-7 0z" fill="#fff" stroke="#000" stroke-width="2"/></svg>
<svg style="left:224px;top:277px" width="29" height="25" viewBox="0 0 29 25"><path d="M2 2h23l2 2v18c-3-3-6-2-9 0s-6 2-9 0-4-1-7 0z" fill="#fff" stroke="#000" stroke-width="2"/><path fill="#000" d="M2 2h23l2 2v1H6v13l-4-2z"/></svg>
<svg style="left:18px;top:317px" width="29" height="23" viewBox="0 0 29 23"><path d="M2 4L27 2v19H2z" fill="#fff" stroke="#000" stroke-width="2"/></svg>
<svg style="left:59px;top:317px" width="29" height="23" viewBox="0 0 29 23"><path d="M7 2h15l5 9.5-5 9.5H7l-5-9.5z" fill="#fff" stroke="#000" stroke-width="2"/></svg>
<svg style="left:100px;top:317px" width="29" height="23" viewBox="0 0 29 23"><path d="M6 2h21l-5 19H1z" fill="#fff" stroke="#000" stroke-width="2"/></svg>
<svg style="left:142px;top:315px" width="29" height="27" viewBox="0 0 29 27"><path d="M2 4c0-3 25-3 25 0v19c0 3-25 3-25 0z" fill="#fff" stroke="#000" stroke-width="2"/><path fill="none" stroke="#000" stroke-width="2" d="M2 4c0 3 25 3 25 0"/></svg>
<svg style="left:183px;top:317px" width="29" height="23" viewBox="0 0 29 23"><path d="M4 2h20c3 0 3 19 0 19H4C1 21 1 2 4 2z" fill="#fff" stroke="#000" stroke-width="2"/><path fill="none" stroke="#000" stroke-width="1.6" d="M24 2c-3 0-3 19 0 19"/></svg>
<svg style="left:224px;top:317px" width="29" height="23" viewBox="0 0 29 23"><rect x="2" y="2" width="25" height="19" fill="#fff" stroke="#000" stroke-width="2"/><path stroke="#000" stroke-width="1.2" d="M5 2v19M2 5h25"/></svg>
<svg style="left:18px;top:356px" width="29" height="25" viewBox="0 0 29 25"><path d="M2 2C6 5 10 5 14 3S22 1 26 5V22C22 18 18 18 14 20S6 23 2 19Z" fill="#fff" stroke="#000" stroke-width="2"/></svg>
<svg style="left:59px;top:357px" width="29" height="23" viewBox="0 0 29 23"><path d="M2 2h25l-4 19H6z" fill="#fff" stroke="#000" stroke-width="2"/></svg>
<svg style="left:100px;top:355px" width="29" height="28" viewBox="0 0 29 28"><path d="M2 2h12a12 12 0 0 1 0 24H2z" fill="#fff" stroke="#000" stroke-width="2"/></svg>
<svg style="left:142px;top:357px" width="29" height="23" viewBox="0 0 29 23"><path d="M5 2H26C23.5 6 23.5 17 26 21H5C2.5 17 2.5 6 5 2Z" fill="#fff" stroke="#000" stroke-width="2"/></svg>
<svg style="left:183px;top:358px" width="29" height="23" viewBox="0 0 29 23"><path d="M2 2h25L14.5 21z" fill="#fff" stroke="#000" stroke-width="2"/></svg>
<svg style="left:224px;top:355px" width="29" height="28" viewBox="0 0 29 28"><circle cx="14" cy="14" r="12" fill="#fff" stroke="#000" stroke-width="2"/></svg>
<svg style="left:18px;top:395px" width="29" height="28" viewBox="0 0 29 28"><circle cx="14" cy="14" r="12" fill="#fff" stroke="#000" stroke-width="2"/><path stroke="#000" stroke-width="2" d="M14 2v24M2 14h24"/></svg>
<svg style="left:59px;top:395px" width="29" height="28" viewBox="0 0 29 28"><circle cx="14" cy="14" r="12" fill="#fff" stroke="#000" stroke-width="2"/><path stroke="#000" stroke-width="2" d="M5.5 5.5l17 17M22.5 5.5l-17 17"/></svg>
<svg style="left:100px;top:397px" width="29" height="23" viewBox="0 0 29 23"><path d="M7 2h15c3 0 4 2 4 9.5S25 21 22 21H7L2 11.5z" fill="#fff" stroke="#000" stroke-width="2"/></svg>
<svg style="left:142px;top:395px" width="29" height="30" viewBox="0 0 29 30"><path d="M2 2h25v18l-12.5 8L2 20z" fill="#fff" stroke="#000" stroke-width="2"/></svg>
<svg style="left:188px;top:395px" width="25" height="27" viewBox="0 0 25 27"><path fill="none" stroke="#000" stroke-width="2" d="M3 1.5c3 0 3.5 1.5 3.5 4v5c0 2 .8 2.5 2 2.5-1.2 0-2 .5-2 2.5v5.5c0 2.5-.5 4-3.5 4"/><path fill="#808080" d="M12 9h9v2h-9zM12 12.5h11v2H12zM12 16h8v2h-8z"/></svg>
<svg style="left:226px;top:395px" width="26" height="27" viewBox="0 0 26 27"><path fill="none" stroke="#000" stroke-width="2" d="M24 1.5c-3 0-3.5 1.5-3.5 4v5c0 2-.8 2.5-2 2.5 1.2 0 2 .5 2 2.5v5.5c0 2.5.5 4 3.5 4"/><path fill="#808080" d="M1 9h10v2H1zM1 12.5h12.5v2H1zM1 16h8v2H1z"/></svg>
<svg style="left:18px;top:437px" width="29" height="25" viewBox="0 0 29 25"><path fill="none" stroke="#000" stroke-width="2" d="M5 2H2v21h3"/><rect x="4" y="2.5" width="21" height="17.5" fill="#fff"/></svg>
<div class="r" style="left:0px;top:480px;width:270px;height:1px;background:#d3d3d3"></div>
<svg style="left:18px;top:504px" width="8" height="7"><path fill="#6f7983" d="M0 0h7.6L3.8 6.2z"/></svg><span class="t" style="left:29.75px;top:500.15px;font-size:14px;line-height:14px;font-weight:normal;color:#656565;transform:scaleX(0.9482);-webkit-text-stroke:0.25px #656565;">Conteneurs</span><svg style="left:237px;top:501px" width="13" height="13"><path stroke="#555" stroke-width="1.7" d="M0.8 0.8l11.4 11.4M12.2 0.8L0.8 12.2"/></svg>
<svg style="left:25px;top:537px" width="14" height="28" viewBox="0 0 14 28"><rect x="2" y="2" width="10" height="24" fill="#fff" stroke="#000" stroke-width="2"/><path stroke="#000" stroke-width="2" d="M2 6h10"/></svg>
<svg style="left:59px;top:543px" width="28" height="15" viewBox="0 0 28 15"><rect x="1.5" y="2" width="25" height="11" fill="#fff" stroke="#000" stroke-width="2"/><path stroke="#000" stroke-width="2" d="M6 2v11"/></svg>
<svg style="left:100px;top:539px" width="29" height="23" viewBox="0 0 29 23"><rect x="2" y="2" width="25" height="19" fill="#fff" stroke="#000" stroke-width="2"/></svg>
<svg style="left:142px;top:538px" width="29" height="26" viewBox="0 0 29 26"><path d="M14.5 2l12.5 11-12.5 11L2 13z" fill="#fff" stroke="#000" stroke-width="2"/></svg>
<svg style="left:183px;top:539px" width="29" height="23" viewBox="0 0 29 23"><rect x="2" y="2" width="25" height="19" rx="5" fill="#fff" stroke="#000" stroke-width="2"/></svg>
<svg style="left:224px;top:539px" width="29" height="23" viewBox="0 0 29 23"><ellipse cx="14.5" cy="11.5" rx="12.5" ry="9.5" fill="#fff" stroke="#000" stroke-width="2"/></svg>
<svg style="left:18px;top:580px" width="29" height="23" viewBox="0 0 29 23"><rect x="2" y="2" width="25" height="19" rx="7" fill="#fff" stroke="#000" stroke-width="2"/></svg>
<svg style="left:59px;top:578px" width="28" height="26" viewBox="0 0 28 26"><path fill="none" stroke="#000" stroke-width="2" d="M5 1c-2 0-2 1-2 3v8l-1 1 1 1v8c0 2 0 3 2 3M23 1c2 0 2 1 2 3v8l1 1-1 1v8c0 2 0 3-2 3"/></svg>
<svg style="left:100px;top:578px" width="28" height="26" viewBox="0 0 28 26"><path fill="none" stroke="#000" stroke-width="2" d="M6 1C3 1 2 2 2 5v16c0 3 1 4 4 4M22 1c3 0 4 1 4 4v16c0 3-1 4-4 4"/></svg>
<svg style="left:142px;top:578px" width="28" height="26" viewBox="0 0 28 26"><path fill="none" stroke="#000" stroke-width="2" d="M1 4c0-2 1-2 3-2h8l1-1 1 1h8c2 0 3 0 3 2M1 22c0 2 1 2 3 2h8l1 1 1-1h8c2 0 3 0 3-2"/></svg>
<svg style="left:183px;top:578px" width="28" height="27" viewBox="0 0 28 27"><path fill="none" stroke="#000" stroke-width="2" d="M1 6c0-3 1-4 4-4h16c3 0 4 1 4 4M1 21c0 3 1 4 4 4h16c3 0 4-1 4-4"/></svg>
<div class="r" style="left:0px;top:623px;width:270px;height:1px;background:#d3d3d3"></div>
<svg style="left:18px;top:647px" width="8" height="7"><path fill="#6f7983" d="M0 0h7.6L3.8 6.2z"/></svg><span class="t" style="left:29.39px;top:643.15px;font-size:14px;line-height:14px;font-weight:normal;color:#656565;transform:scaleX(0.8973);-webkit-text-stroke:0.25px #656565;">Réseau</span><svg style="left:237px;top:644px" width="13" height="13"><path stroke="#555" stroke-width="1.7" d="M0.8 0.8l11.4 11.4M12.2 0.8L0.8 12.2"/></svg>
<svg style="left:19px;top:681px" width="27" height="26" viewBox="0 0 27 26"><path fill="#4d667a" d="M13.4 1L25 6.5 13 12.5 1 6.5z"/><path fill="#2c465a" d="M1 6.5L13 12.5V25L1 19z"/><path fill="#3c566a" d="M13 12.5L25 6.5V19L13 25z"/><path fill="#8ea4b4" d="M14 15l10-5v1.5l-10 5zM14 19l10-5v1.5l-10 5z"/><path fill="#22394b" d="M14 13.5l10-5v1.5l-10 5z"/></svg>
<svg style="left:60px;top:681px" width="27" height="26" viewBox="0 0 27 26"><path fill="#8ea4b6" d="M4 9l10-6 12 5v11l-11 6-11-5z"/><path fill="#a9bac7" d="M4 9l10-6 12 5-11 6z"/><path fill="#7a91a4" d="M15 14l11-6v11l-11 6z"/><path fill="#6d8497" d="M1 13l4-1.5 5 3v3l-9-3z"/><path fill="#e07a3a" d="M12 6l2-1 2 1-2 1z"/><path fill="#fff" d="M10 7l2-1 1 .6-2 1z"/><path fill="#2c4355" d="M4 19l11 5v1.5L4 20.5z"/></svg>
<svg style="left:101px;top:681px" width="27" height="26" viewBox="0 0 27 26"><path fill="#fff" d="M4 14l18-9v6L6 19z"/><path fill="#e8843a" d="M9 14l2-1v4l-2 1z"/><path fill="#6db3e0" d="M12 12.5l2-1v4l-2 1z"/><path fill="#5fae3a" d="M15 11l3-1.5v3.5l-3 1.5z"/><path fill="#1f3546" d="M1 12.5c0-1.5 1-2.5 2-3L22 1c1.5-.6 3 .3 3 1.8v1.5L3.5 15.5C2 16.2 1 15 1 13.5z"/><path fill="#3e5a70" d="M3 10L22 1.5v1.5L3 11.5z"/><path stroke="#8aa0b0" stroke-width="1.6" fill="none" d="M8 18l-1 6M21 10l3 6M3 25l7-3M19 17l6-2"/></svg>
<svg style="left:143px;top:681px" width="27" height="26" viewBox="0 0 27 26"><path fill="#24405a" d="M13 1l12 5v13l-12 6L1 19V6z"/><path fill="#48637a" d="M13 1.5L24.5 6 13 11.5 1.5 6z"/><path fill="#e9edf0" d="M8 6.5l5-2.5 5 2.5-5 2.5z"/><path fill="#e0893e" d="M12 6.5l1.5-.8 1.5.8-1.5.8z"/><path fill="#6f8799" d="M12.3 12h1.4v13h-1.4z"/><path fill="#2b475e" d="M14 12.5l10.5-5.5v12L14 24.5z"/></svg>
<svg style="left:184px;top:681px" width="27" height="26" viewBox="0 0 27 26"><path fill="#6a8498" d="M1 8L15 1l11 5-14 7z"/><path fill="#243e53" d="M12 13l14-7v12l-14 7z"/><path fill="#5d778b" d="M1 8l11 5v12L1 20z"/><path fill="#8ea6b7" d="M2 10l3 1.4v12L2 22z"/></svg>
<svg style="left:226px;top:681px" width="27" height="26" viewBox="0 0 27 26"><path fill="#24405a" d="M2 12l12-5 11 5v8l-11 5-12-5z"/><path fill="#3a566c" d="M2 12l12-5 11 5-11 5z"/><path fill="#e6ebef" d="M7 11l7-3 6 3-7 3z"/><path fill="#e0893e" d="M9 11l2-.8 1.5.8-2 .8z"/><path fill="#3d8ad8" d="M16 12l1.5-.6 1 .5-1.5.6z"/><path fill="#fff" stroke="#9fb0bc" stroke-width=".5" d="M15 7l5-5.5c1-.8 2.2-.5 3 .5l1.5 5-5.5 3z"/><path fill="#98aebd" d="M3 6l6-2 4 3-5 2z"/><path fill="#e9edf0" stroke="#9fb0bc" stroke-width=".5" d="M1 20l6-3 5 2.5-6 3z"/><path fill="#e0893e" d="M5 20l1.5-.7 1.2.6-1.5.7z"/></svg>
<div class="r" style="left:0px;top:720px;width:280px;height:46px;background:#f0f0f0;border-top:1px solid #d0d0d0;box-sizing:border-box"></div>
<svg style="left:56px;top:734px" width="19" height="19" viewBox="0 0 19 19"><path fill="none" stroke="#555" stroke-width="1.8" d="M9 1h9v17H9"/><path fill="none" stroke="#555" stroke-width="1.8" d="M0 9.5h12"/><path fill="#555" d="M9.5 5.5l4.5 4-4.5 4z"/></svg>
<span class="t" style="left:83.10px;top:736.50px;font-size:15px;line-height:15px;font-weight:normal;color:#5f5f5f;transform:scaleX(1.0175);-webkit-text-stroke:0.25px #5f5f5f;">Importer les données</span>
<svg style="left:1243px;top:123px" width="16" height="16" viewBox="0 0 16 16"><path fill="none" stroke="#6d7883" stroke-width="2.2" d="M7.5 1.5L2 8l5.5 6.5M14.5 1.5L9 8l5.5 6.5"/></svg>
<svg style="left:1243px;top:160px" width="17" height="20" viewBox="0 0 17 20"><path fill="none" stroke="#3e4853" stroke-width="1.9" d="M1 2a1 1 0 0 1 1-1h9l5 5v12a1 1 0 0 1-1 1H2a1 1 0 0 1-1-1z"/><path fill="#3e4853" d="M4 9.5h9v1.4H4zM4 13.5h9v1.4H4zM9 8h2v4H9zM6 12h2v4H6z"/></svg>
<svg style="left:1241px;top:211px" width="21" height="17" viewBox="0 0 21 17"><path fill="#3e4853" d="M0 0h21v17H4V4z"/><path fill="#e6e6e6" d="M8 5h3v3l-1.3 3H8.2l.9-3H8zM13 5h3v3l-1.3 3h-1.5l.9-3H13z"/></svg>
<svg style="left:1241px;top:260px" width="21" height="21" viewBox="0 0 21 21"><path fill="#3e4853" d="M9.3 0h2.4v2.5H9.3z"/><rect x="1.8" y="3.5" width="17.4" height="12" fill="none" stroke="#3e4853" stroke-width="2"/><path fill="#3e4853" d="M.8 2h19.4v3.5H.8zM8.5 7.2l5.5 3-5.5 3z"/><path stroke="#3e4853" stroke-width="1.8" d="M6.5 15.5l-2 5M14.5 15.5l2 5"/></svg>
<svg style="left:1242px;top:311px" width="18" height="18" viewBox="0 0 18 18"><circle cx="9" cy="9" r="8" fill="none" stroke="#3e4853" stroke-width="1.9"/><path fill="none" stroke="#3e4853" stroke-width="1.9" d="M9 4v5.5l3 2.5"/></svg>
<svg style="left:1241px;top:361px" width="19" height="18" viewBox="0 0 19 18"><path fill="none" stroke="#3e4853" stroke-width="1.7" stroke-linejoin="round" d="M9.5 1L18 5.5 9.5 10 1 5.5z"/><path fill="none" stroke="#3e4853" stroke-width="1.7" stroke-linejoin="round" d="M1 9l8.5 4.5L18 9M1 12.5l8.5 4.5 8.5-4.5"/></svg>
<svg style="left:1242px;top:410px" width="17" height="20" viewBox="0 0 17 20"><path fill="none" stroke="#3e4853" stroke-width="1.9" d="M1 1h10l5 5v13H1z"/><path fill="#3e4853" d="M8.5 7s-3 3.5-3 5.5a3 3 0 0 0 6 0c0-2-3-5.5-3-5.5z"/></svg>
<svg style="left:1241px;top:461px" width="20" height="18" viewBox="0 0 20 18"><path fill="none" stroke="#3e4853" stroke-width="1.8" d="M10 1c5 0 9 3 9 6.8s-4 6.8-9 6.8c-1 0-2-.1-3-.4L2.5 16.5l1.2-3.7C2 11.5 1 9.7 1 7.8 1 4 5 1 10 1z"/><circle cx="6.5" cy="8" r="1.1" fill="#3e4853"/><circle cx="10" cy="8" r="1.1" fill="#3e4853"/><circle cx="13.5" cy="8" r="1.1" fill="#3e4853"/></svg>
<svg style="left:1240px;top:509px" width="22" height="22" viewBox="0 0 22 22"><ellipse cx="8.5" cy="3.5" rx="7.5" ry="3" fill="#3e4853"/><path fill="none" stroke="#3e4853" stroke-width="1.8" d="M1 3.5v12.5c0 1.7 3.4 3 7.5 3M16 3.5v4M1 8c0 1.7 3.4 3 7.5 3 1.5 0 3-.2 4-.5M1 12c0 1.7 3.4 3 7 3"/><path fill="none" stroke="#3e4853" stroke-width="2" d="M13 12.5l2-2c1.2-1.2 3-1.2 4.2 0s1.2 3 0 4.2l-2 2M16 18.5l-2 2c-1.2 1.2-3 1.2-4.2 0s-1.2-3 0-4.2l2-2M13.8 16.7l3-3"/></svg>
<svg style="left:1241px;top:558px" width="22" height="23" viewBox="0 0 22 23"><path stroke="#3e4853" stroke-width="3.2" stroke-linecap="round" d="M9.5 10.5l10 10.5"/><path fill="#3e4853" d="M5 0l1.3 3.7L10 5 6.3 6.3 5 10 3.7 6.3 0 5l3.7-1.3zM14.5 2l.9 2.1 2.1.9-2.1.9-.9 2.1-.9-2.1-2.1-.9 2.1-.9zM4 13l.9 2.1 2.1.9-2.1.9L4 19l-.9-2.1L1 16l2.1-.9z"/></svg>
<svg style="left:102px;top:773px" width="21" height="18" viewBox="0 0 21 18"><path fill="#fff" d="M0 0h3v3H0zM6 0h15v3H6zM0 7.2h3v3H0zM6 7.2h15v3H6zM0 14.5h3v3H0zM6 14.5h15v3H6z"/></svg>
<svg style="left:140px;top:773px" width="19" height="18" viewBox="0 0 19 18"><path fill="#fff" d="M0 0h8.5v8H0zM10.5 0H19v8h-8.5zM0 10h8.5v8H0zM10.5 10H19v8h-8.5z"/></svg>
<div class="r" style="left:173px;top:766px;width:177px;height:28px;background:#3d4650;border-radius:0 0 3px 3px"></div>
<span class="t" style="left:182.42px;top:773.15px;font-size:14px;line-height:14px;font-weight:bold;color:#fff;transform:scaleX(0.8869);">Network Clipart Diagram</span>
<svg style="left:332px;top:776px" width="9" height="8"><path fill="#fff" d="M0 0h8.5L4.25 7.5z"/></svg>
<svg style="left:363px;top:772px" width="20" height="20" viewBox="0 0 20 20"><circle cx="10" cy="10" r="8.3" fill="none" stroke="#fff" stroke-width="1.8"/><path stroke="#fff" stroke-width="2" d="M10 5.5v9M5.5 10h9"/></svg>
<div class="r" style="left:975px;top:771px;width:1px;height:23px;background:#3a434c"></div>
<svg style="left:986px;top:772px" width="20" height="20" viewBox="0 0 20 20"><circle cx="10" cy="10" r="8.3" fill="none" stroke="#fff" stroke-width="1.8"/><path fill="#fff" d="M10 4.5l4.2 10-4.2-2.5-4.2 2.5z"/></svg>
<div class="r" style="left:1021px;top:781px;width:15px;height:2px;background:#fff"></div>
<div class="r" style="left:1047px;top:780px;width:139px;height:4px;background:#a9adb1;border-radius:2px"></div>
<svg style="left:1083px;top:775px" width="14" height="14"><circle cx="7" cy="7" r="6" fill="#3d95f8"/></svg>
<div class="r" style="left:1197px;top:781px;width:16px;height:2px;background:#fff"></div>
<div class="r" style="left:1204px;top:774px;width:2px;height:16px;background:#fff"></div>
<span class="t" style="left:1219.00px;top:776.50px;font-size:13px;line-height:13px;font-weight:bold;color:#fff;transform:scaleX(1.0667);">48%</span>
<svg style="left:1251px;top:778px" width="9" height="8"><path fill="#fff" d="M0 0h8L4 7z"/></svg>
</body></html>
